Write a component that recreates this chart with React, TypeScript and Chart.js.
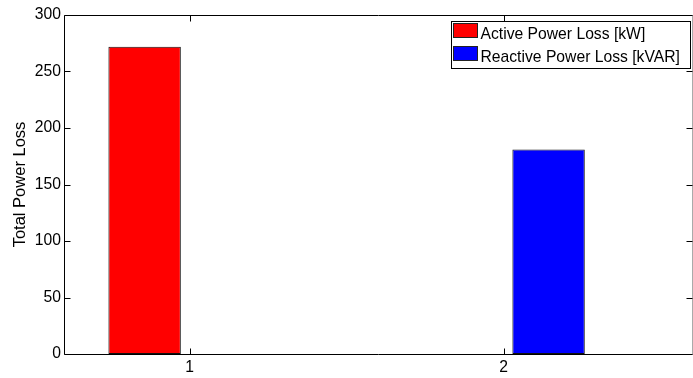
import { useEffect, useRef } from 'react';
import { Chart, registerables } from 'chart.js';

Chart.register(...registerables);

const categories = [1, 2];
const seriesLabels = ['Active Power Loss [kW]', 'Reactive Power Loss [kVAR]'];
const activeLoss = [272, 0];
const reactiveLoss = [0, 181];
const seriesColors = ['#ff0000', '#0000ff'];
const xTicks = [1, 2];
const yTicks = [0, 50, 100, 150, 200, 250, 300];
const yTitle = 'Total Power Loss';

const FONT = 'Arial, "Liberation Sans", Helvetica, sans-serif';
const FSIZE = 15.7;

const framePlugin = {
  id: 'matlabFrame',
  afterDatasetsDraw(chart: any) {
    const { ctx, chartArea } = chart;
    const xs = chart.scales.x;
    const ys = chart.scales.y;
    const L = Math.round(chartArea.left) + 0.5;
    const R = Math.round(chartArea.right) + 0.5;
    const T = Math.round(chartArea.top) + 0.5;
    const B = Math.round(chartArea.bottom) + 0.5;
    ctx.save();
    ctx.lineWidth = 1;
    ctx.strokeStyle = '#000';
    ctx.beginPath();
    ctx.moveTo(L, B);
    ctx.lineTo(L, T);
    ctx.lineTo(R, T);
    ctx.moveTo(L, B);
    ctx.lineTo(R, B);
    ctx.stroke();
    ctx.strokeStyle = '#aaa';
    ctx.beginPath();
    ctx.moveTo(R, T);
    ctx.lineTo(R, B);
    ctx.stroke();
    ctx.strokeStyle = '#000';
    ctx.beginPath();
    const tl = 6;
    yTicks.forEach((v) => {
      const py = Math.round(ys.getPixelForValue(v)) + 0.5;
      ctx.moveTo(L, py);
      ctx.lineTo(L + tl, py);
      ctx.moveTo(R, py);
      ctx.lineTo(R - tl, py);
    });
    xTicks.forEach((v) => {
      const px = Math.round(xs.getPixelForValue(v)) + 0.5;
      ctx.moveTo(px, B);
      ctx.lineTo(px, B - tl);
      ctx.moveTo(px, T);
      ctx.lineTo(px, T + tl);
    });
    ctx.stroke();
    ctx.restore();
  },
  afterDraw(chart: any) {
    const { ctx, chartArea } = chart;
    const datasets = chart.data.datasets;
    const boxW = 239;
    const rowH = 23;
    const boxH = 47;
    const bx = Math.round(chartArea.right) - 2 - boxW + 0.5;
    const by = Math.round(chartArea.top) + 6 + 0.5;
    ctx.save();
    ctx.fillStyle = '#fff';
    ctx.fillRect(bx, by, boxW, boxH);
    ctx.strokeStyle = '#000';
    ctx.lineWidth = 1;
    ctx.strokeRect(bx, by, boxW, boxH);
    ctx.font = `${FSIZE}px ${FONT}`;
    ctx.textBaseline = 'alphabetic';
    ctx.textAlign = 'left';
    datasets.forEach((ds: any, i: number) => {
      const sy = by + 2 + i * rowH;
      ctx.fillStyle = ds.backgroundColor;
      ctx.fillRect(bx + 2, sy, 24, 14);
      ctx.strokeStyle = '#222';
      ctx.strokeRect(bx + 2, sy, 24, 14);
      ctx.fillStyle = '#000';
      ctx.fillText(ds.label, bx + 29, sy + 15.5);
    });
    ctx.restore();
  },
};

export default function App() {
  const ref = useRef<HTMLCanvasElement | null>(null);

  useEffect(() => {
    document.body.style.margin = '0';
    const canvas = ref.current;
    if (!canvas) return;
    const series = [activeLoss, reactiveLoss];
    const chart = new Chart(canvas, {
      type: 'bar',
      data: {
        datasets: series.map((vals, si) => ({
          label: seriesLabels[si],
          data: categories.map((c, i) => ({ x: c, y: vals[i] })),
          backgroundColor: seriesColors[si],
          borderColor: '#111',
          borderWidth: 1,
          borderSkipped: false,
          categoryPercentage: 0.573,
          barPercentage: 0.805,
        })),
      },
      options: {
        responsive: false,
        animation: false,
        devicePixelRatio: 1,
        layout: { padding: { top: 15, right: 1, left: 0, bottom: 0 } },
        plugins: {
          legend: { display: false },
          tooltip: { enabled: false },
        },
        scales: {
          x: {
            type: 'linear',
            min: 0.6,
            max: 2.6,
            offset: false,
            bounds: 'ticks',
            grid: { display: false, drawTicks: false, offset: false },
            border: { display: false },
            afterBuildTicks: (scale: any) => {
              scale.ticks = xTicks.map((v) => ({ value: v }));
            },
            afterFit: (scale: any) => {
              scale.height = 24;
            },
            ticks: {
              padding: 4,
              color: '#000',
              font: { family: FONT, size: FSIZE, lineHeight: 1.2 },
              maxRotation: 0,
              autoSkip: false,
              callback: (v: any) => String(v),
            },
          },
          y: {
            type: 'linear',
            min: 0,
            max: 300,
            grid: { display: false, drawTicks: false },
            border: { display: false },
            afterBuildTicks: (scale: any) => {
              scale.ticks = yTicks.map((v) => ({ value: v }));
            },
            afterFit: (scale: any) => {
              scale.width = 64;
            },
            ticks: {
              padding: 3,
              color: '#000',
              font: { family: FONT, size: FSIZE, lineHeight: 1.2 },
              callback: (v: any) => String(v),
            },
            title: {
              display: true,
              text: yTitle,
              color: '#000',
              font: { family: FONT, size: 16.5, lineHeight: 1.2 },
              padding: { top: 11, bottom: 0 },
            },
          },
        },
      },
      plugins: [framePlugin],
    } as any);
    return () => chart.destroy();
  }, []);

  return (
    <div style={{ width: 693, height: 378, position: 'relative', background: '#fff' }}>
      <canvas ref={ref} width={693} height={378} style={{ display: 'block' }} />
    </div>
  );
}
